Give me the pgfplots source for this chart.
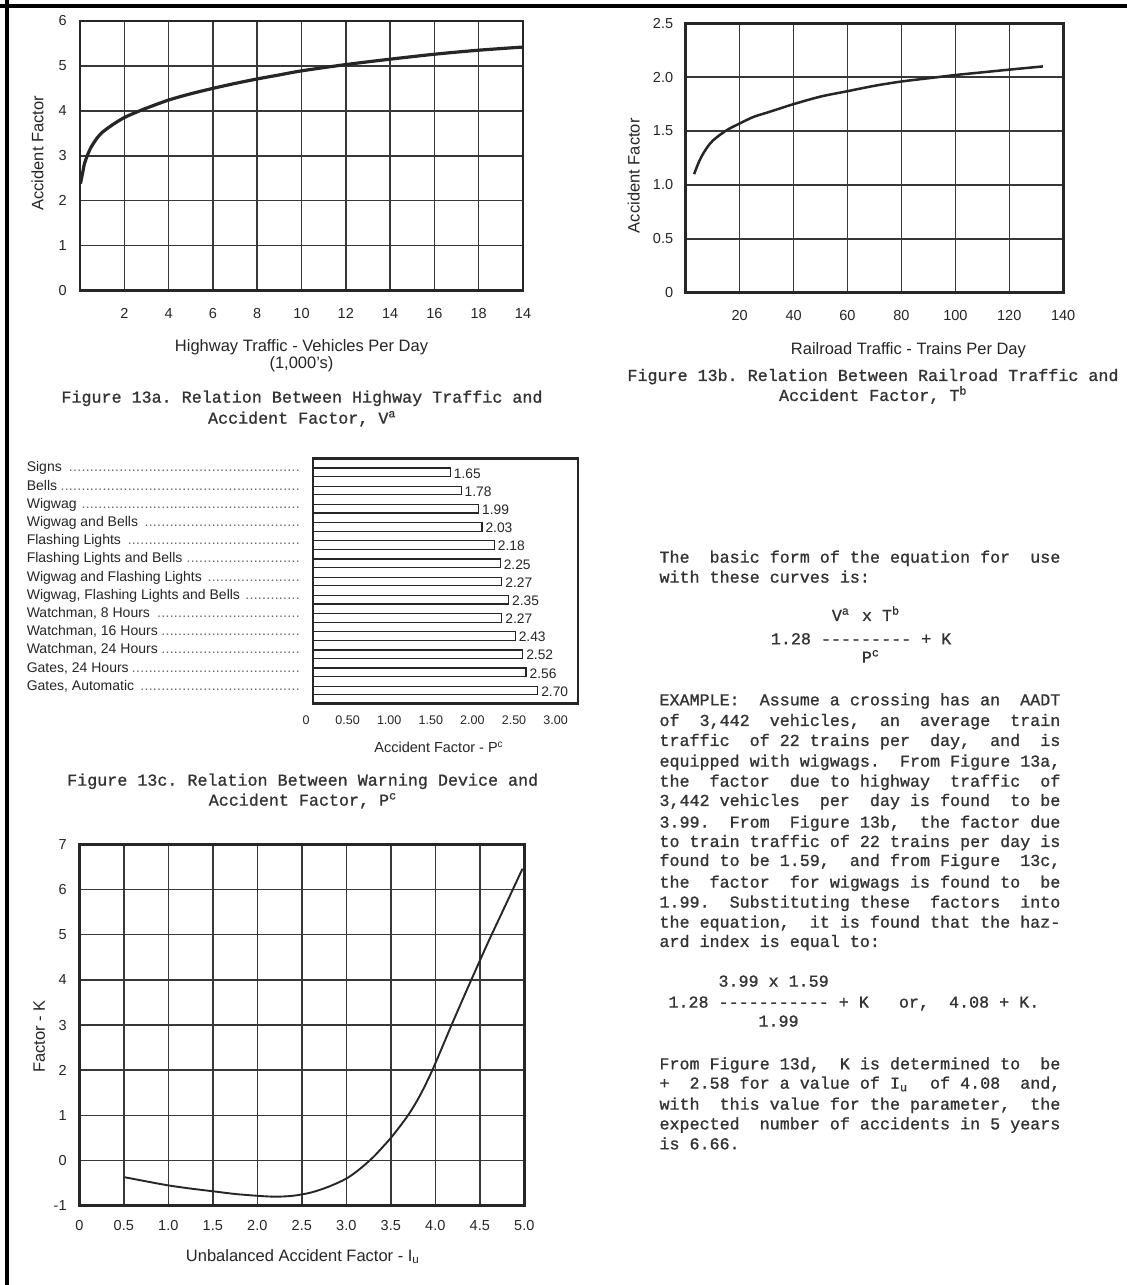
\documentclass[border=0pt]{standalone}
\usepackage{fontspec}
\setmainfont{Liberation Sans}
\setmonofont{Liberation Mono}[FakeBold=1]
\usepackage{pgfplots}
\pgfplotsset{compat=1.18}

\definecolor{ink}{gray}{0.15}
\definecolor{typ}{gray}{0.2}

\newcommand\dotlead{\leaders\hbox to 4.2pt{\hss.\hss}\hfill}
\newcommand\lbl[1]{\makebox[277pt][l]{#1\hspace{3pt}\textcolor{ink!70}{\dotlead}}}
\newcommand\tsup[1]{\makebox[0.6em][l]{\textsuperscript{#1}}}
\newcommand\tsub[1]{\makebox[0.6em][l]{\textsubscript{#1}}}

\pgfkeys{/pgf/number format/assume math mode=true}
\pgfplotsset{
  base/.style={scale only axis, anchor=south west,
    axis line style={line width=2.6pt, draw=ink},
    major tick length=0pt, tick style={draw=none},
    tick label style={font=\fontsize{14.5}{16}\selectfont, text=ink, inner sep=0pt},
    label style={font=\fontsize{16.5}{17}\selectfont, text=ink, inner sep=0pt},
    xticklabel style={anchor=north}, yticklabel style={anchor=east}},
  gridded/.style={base, grid=major, grid style={line width=1.5pt, draw=ink!92}},
}
\tikzset{tw/.style={font=\ttfamily\fontsize{16.7}{20}\selectfont, text=typ, inner sep=0pt}}

\begin{document}
\begin{tikzpicture}
\useasboundingbox (0,0) rectangle (1127pt,-1285pt);
\fill[white] (0,0) rectangle (1127pt,-1285pt);
\draw[line width=3.5pt] (0,-6pt) -- (1127pt,-6pt);
\draw[line width=3.5pt] (6.8pt,0) -- (6.8pt,-1285pt);

% Figure 13a
\begin{axis}[gridded, at={(80pt,-290.5pt)}, width=443pt, height=269.5pt,
  xmin=0, xmax=20, ymin=0, ymax=6,
  xtick={2,4,6,8,10,12,14,16,18,20}, xticklabels={2,4,6,8,10,12,14,16,18,14},
  ytick={0,1,2,3,4,5,6}, yticklabels={0,1,2,3,4,5,6},
  xticklabel style={yshift=-17.5pt}, yticklabel style={xshift=-13.2pt},
  xlabel={Highway Traffic - Vehicles Per Day\\(1,000's)},
  xlabel style={at={(axis description cs:0.5,-0.1818)}, anchor=north, align=center},
  ylabel={Accident Factor},
  ylabel style={at={(axis description cs:-0.0959,0.509)}, anchor=center}]
\addplot[ink, line width=3.2pt, smooth] coordinates {
  (0.02,2.38) (0.12,2.62) (0.2,2.82) (0.35,3.03) (0.5,3.19) (0.75,3.38)
  (1,3.52) (1.5,3.70) (2,3.85) (2.5,3.96) (3,4.06) (4,4.24) (5,4.38)
  (6,4.50) (7,4.61) (8,4.71) (9,4.80) (10,4.89) (12,5.03) (14,5.15)
  (16,5.26) (18,5.35) (20,5.42)};
\end{axis}

% Figure 13b
\begin{axis}[gridded, at={(685.7pt,-292.7pt)}, width=377.5pt, height=269.4pt,
  xmin=0, xmax=140, ymin=0, ymax=2.5,
  xtick={20,40,60,80,100,120,140}, xticklabels={20,40,60,80,100,120,140},
  ytick={0,0.5,1,1.5,2,2.5}, yticklabels={0,0.5,1.0,1.5,2.0,2.5},
  xticklabel style={yshift=-17.3pt}, yticklabel style={xshift=-12.4pt},
  xlabel={Railroad Traffic - Trains Per Day},
  xlabel style={at={(axis description cs:0.59,-0.185)}, anchor=north},
  ylabel={Accident Factor},
  ylabel style={at={(axis description cs:-0.138,0.434)}, anchor=center}]
\addplot[ink, line width=2.5pt, smooth] coordinates {
  (3.1,1.10) (4.5,1.19) (6,1.27) (8,1.35) (10,1.41) (13,1.47) (16,1.52)
  (20,1.57) (25,1.63) (30,1.67) (35,1.71) (40,1.75) (50,1.82) (60,1.87)
  (70,1.92) (80,1.96) (90,1.99) (100,2.02) (110,2.045) (120,2.07) (132.5,2.10)};
\end{axis}

% Figure 13c
\begin{axis}[base, at={(313pt,-703.3pt)}, width=265pt, height=245pt,
  xbar, bar width=8.6pt,
  xmin=0, xmax=3.185, ymin=-0.77, ymax=12.7, y dir=reverse,
  xtick={0,0.5,1,1.5,2,2.5,3}, xticklabels={0,0.50,1.00,1.50,2.00,2.50,3.00},
  xticklabel style={font=\fontsize{12.5}{14}\selectfont, yshift=-12.4pt, xshift=-7pt},
  ytick={0,1,2,3,4,5,6,7,8,9,10,11,12},
  yticklabels={\lbl{Signs},\lbl{Bells},\lbl{Wigwag},\lbl{Wigwag and Bells},
    \lbl{Flashing Lights},\lbl{Flashing Lights and Bells},
    \lbl{Wigwag and Flashing Lights},\lbl{Wigwag, Flashing Lights and Bells},
    \lbl{Watchman, 8 Hours},\lbl{Watchman, 16 Hours},\lbl{Watchman, 24 Hours},
    \lbl{Gates, 24 Hours},\lbl{Gates, Automatic}},
  yticklabel style={font=\fontsize{14}{15}\selectfont, anchor=mid east, xshift=-9pt, yshift=3pt},
  xlabel={Accident Factor - P\textsuperscript{c}},
  xlabel style={font=\fontsize{14.5}{16}\selectfont, at={(axis description cs:0.475,-0.157)}, anchor=north},
  point meta=x,
  nodes near coords={\pgfmathprintnumber[fixed,fixed zerofill,precision=2]{\pgfplotspointmeta}},
  every node near coord/.append style={font=\fontsize{13.8}{15}\selectfont, text=ink, anchor=west, inner sep=0pt, xshift=3pt, yshift=-1pt}]
\addplot[draw=ink, fill=white, line width=1.2pt] coordinates {
  (1.65,0) (1.78,1) (1.99,2) (2.03,3) (2.18,4) (2.25,5) (2.27,6)
  (2.35,7) (2.27,8) (2.43,9) (2.52,10) (2.56,11) (2.70,12)};
\end{axis}

% Figure 13d
\begin{axis}[gridded, at={(79.3pt,-1205.7pt)}, width=445pt, height=361.4pt,
  xmin=0, xmax=5, ymin=-1, ymax=7,
  xtick={0,0.5,1,1.5,2,2.5,3,3.5,4,4.5,5},
  xticklabels={0,0.5,1.0,1.5,2.0,2.5,3.0,3.5,4.0,4.5,5.0},
  ytick={-1,0,1,2,3,4,5,6,7}, yticklabels={-1,0,1,2,3,4,5,6,7},
  xticklabel style={yshift=-14.3pt}, yticklabel style={xshift=-12.5pt},
  xlabel={Unbalanced Accident Factor - I\textsubscript{u}},
  xlabel style={at={(axis description cs:0.502,-0.12)}, anchor=north},
  ylabel={Factor - K},
  ylabel style={at={(axis description cs:-0.0899,0.468)}, anchor=center}]
\addplot[ink, line width=1.9pt, smooth] coordinates {
  (0.51,-0.37) (0.75,-0.46) (1.0,-0.55) (1.25,-0.62) (1.5,-0.68) (1.75,-0.74)
  (2.0,-0.78) (2.2,-0.80) (2.4,-0.78) (2.6,-0.71) (2.8,-0.58) (3.0,-0.40)
  (3.15,-0.19) (3.3,0.07) (3.4,0.28) (3.5,0.50) (3.6,0.75) (3.7,1.02)
  (3.8,1.34) (3.9,1.72) (4.0,2.15) (4.2,3.08) (4.4,3.98) (4.6,4.86)
  (4.8,5.70) (4.98,6.46)};
\end{axis}

% captions
\node[tw, anchor=mid] at (302pt,-400pt) {Figure 13a. Relation Between Highway Traffic and};
\node[tw, anchor=mid] at (302pt,-421pt) {Accident Factor, V\textsuperscript{a}};
\node[tw, anchor=mid] at (873pt,-378.3pt) {Figure 13b. Relation Between Railroad Traffic and};
\node[tw, anchor=mid] at (873pt,-398.3pt) {Accident Factor, T\textsuperscript{b}};
\node[tw, anchor=mid] at (302.7pt,-783pt) {Figure 13c. Relation Between Warning Device and};
\node[tw, anchor=mid] at (302.7pt,-803pt) {Accident Factor, P\textsuperscript{c}};

% text column
\begin{scope}[every node/.style={tw, anchor=mid west}]
\node at (659.3pt,-560pt) {The~~basic form of the equation for~~use};
\node at (659.3pt,-580pt) {with these curves is:};
\node at (831.7pt,-618.3pt) {V\tsup{a} x T\tsup{b}};
\node at (770.7pt,-641.7pt) {1.28 --------- + K};
\node at (861.7pt,-660pt) {P\tsup{c}};
\node at (659.3pt,-702.7pt) {EXAMPLE:~~Assume a crossing has an~~AADT};
\node at (659.3pt,-723.3pt) {of~~3,442~~vehicles,~~an~~average~~train};
\node at (659.3pt,-743.3pt) {traffic~~of 22 trains per~~day,~~and~~is};
\node at (659.3pt,-764pt) {equipped with wigwags.~~From Figure 13a,};
\node at (659.3pt,-784pt) {the~~factor~~due to highway~~traffic~~of};
\node at (659.3pt,-803.3pt) {3,442 vehicles~~per~~day is found~~to be};
\node at (659.3pt,-825pt) {3.99.~~From~~Figure 13b,~~the factor due};
\node at (659.3pt,-844.3pt) {to train traffic of 22 trains per day is};
\node at (659.3pt,-863.3pt) {found to be 1.59,~~and from Figure~~13c,};
\node at (659.3pt,-885pt) {the~~factor~~for wigwags is found to~~be};
\node at (659.3pt,-905pt) {1.99.~~Substituting these~~factors~~into};
\node at (659.3pt,-925pt) {the equation,~~it is found that the haz-};
\node at (659.3pt,-944.3pt) {ard index is equal to:};
\node at (718.3pt,-984pt) {3.99 x 1.59};
\node at (668.3pt,-1005pt) {1.28 ----------- + K~~~or,~~4.08 + K.};
\node at (758.3pt,-1024pt) {1.99};
\node at (659.3pt,-1066.7pt) {From Figure 13d,~~K is determined to~~be};
\node at (659.3pt,-1086pt) {+~~2.58 for a value of I\tsub{u}~~of 4.08~~and,};
\node at (659.3pt,-1107pt) {with~~this value for the parameter,~~the};
\node at (659.3pt,-1126.7pt) {expected~~number of accidents in 5 years};
\node at (659.3pt,-1146.7pt) {is 6.66.};
\end{scope}
\end{tikzpicture}
\end{document}
